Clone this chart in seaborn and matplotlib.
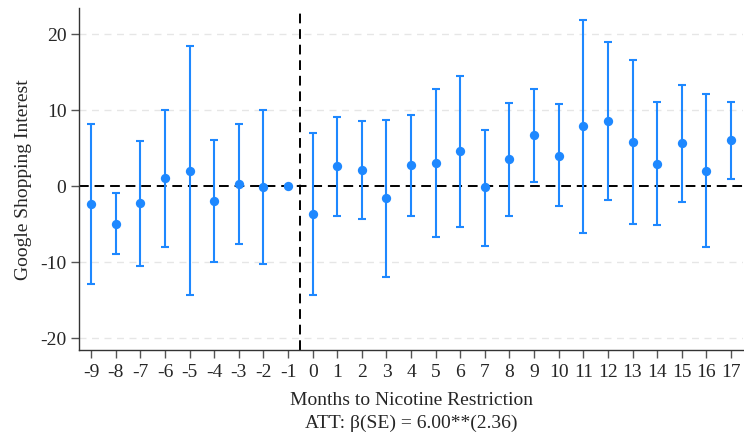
import numpy as np
import pandas as pd
import matplotlib
matplotlib.use("Agg")
import matplotlib.pyplot as plt
import seaborn as sns

# --- data ---
months = list(range(-9, 18))
coef = [-2.4, -5.0, -2.3, 1.0, 2.0, -2.0, 0.3, -0.2, 0.0,
        -3.7, 2.6, 2.1, -1.6, 2.7, 3.0, 4.6, -0.2, 3.5, 6.7,
        4.0, 7.9, 8.5, 5.8, 2.9, 5.6, 2.0, 6.0]
ci_low = [-12.9, -9.0, -10.5, -8.0, -14.4, -10.0, -7.7, -10.3, 0.0,
          -14.4, -4.0, -4.3, -12.0, -4.0, -6.7, -5.4, -7.9, -3.9, 0.5,
          -2.7, -6.2, -1.8, -5.0, -5.2, -2.1, -8.0, 0.9]
ci_high = [8.2, -0.9, 5.9, 10.0, 18.4, 6.1, 8.2, 10.0, 0.0,
           7.0, 9.1, 8.5, 8.7, 9.4, 12.7, 14.5, 7.4, 10.9, 12.8,
           10.8, 21.8, 18.9, 16.6, 11.0, 13.3, 12.1, 11.0]
yticks = [-20, -10, 0, 10, 20]

df = pd.DataFrame({"Month": months, "Coef": coef, "Low": ci_low, "High": ci_high})

sns.set_style("white")
plt.rcParams['font.family'] = ['Liberation Serif', 'DejaVu Serif']
plt.rcParams['axes.unicode_minus'] = False

fig = plt.figure(figsize=(7.44, 4.35), dpi=100)
ax = fig.add_axes([0.106, 0.193, 0.893, 0.786])

blue = '#1E88FF'

# light gridlines
for y in [-20, -10, 10, 20]:
    ax.axhline(y, color='#e6e6e6', linestyle=(0, (5, 4)), linewidth=1, zorder=0)

ax.errorbar(df["Month"], df["Coef"],
            yerr=[df["Coef"] - df["Low"], df["High"] - df["Coef"]],
            fmt='none', ecolor=blue, elinewidth=1.5, capsize=3, capthick=1.5, zorder=2)
sns.scatterplot(data=df, x="Month", y="Coef", ax=ax, color=blue, s=45,
                edgecolor=blue, linewidth=0, zorder=3)

ax.axhline(0, color='black', linestyle=(0, (5, 3)), linewidth=1.4, zorder=1)
ax.axvline(-0.5, color='black', linestyle=(0, (5, 3)), linewidth=1.4, zorder=1)

ax.set_xlim(-9.5, 17.5)
ax.set_ylim(-21.6, 23.4)
ax.set_xticks(months)
ax.set_xticklabels([str(m) for m in months])
ax.set_yticks(yticks)

for side in ['top', 'right']:
    ax.spines[side].set_visible(False)
for side in ['left', 'bottom']:
    ax.spines[side].set_color('#333333')
    ax.spines[side].set_linewidth(1.0)

ax.tick_params(axis='both', direction='out', length=6, width=1, color='#555555',
               labelsize=14, pad=3, left=True, bottom=True)

ax.set_ylabel("Google Shopping Interest", fontsize=14, labelpad=6)
ax.set_xlabel("Months to Nicotine Restriction\nATT: β(SE) = 6.00**(2.36)", fontsize=14,
              linespacing=1.45, labelpad=8)

fig.savefig("out.png", dpi=100)
